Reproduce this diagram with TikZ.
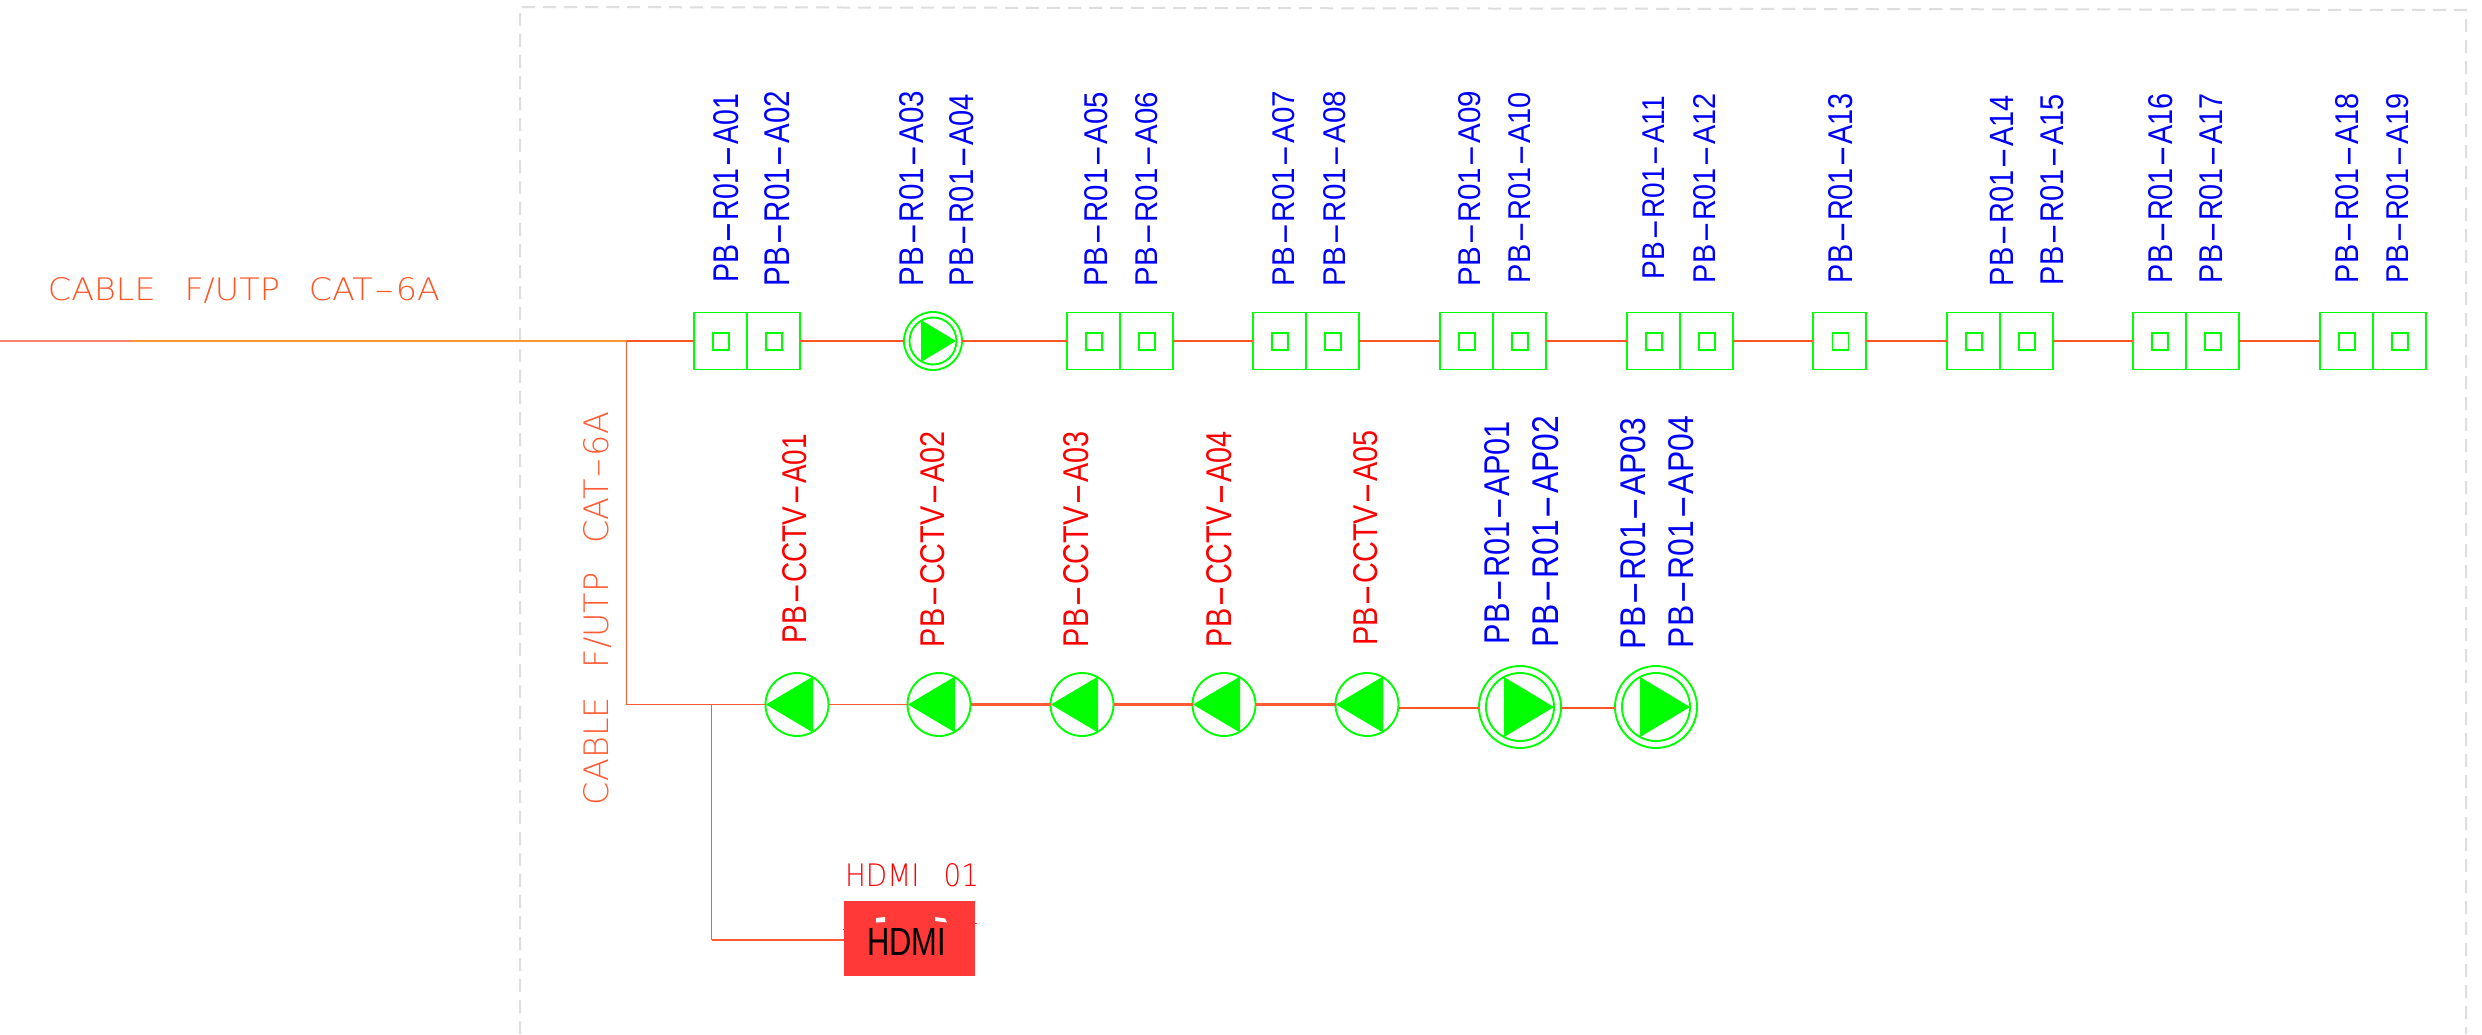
\documentclass[tikz,border=0pt]{standalone}
\usepackage{graphicx}
\usepackage{fontspec}
\setmainfont{Liberation Sans}
\newfontfamily\thinfont{DejaVu Sans ExtraLight}
\definecolor{devgreen}{RGB}{0,255,0}
\definecolor{cablered}{RGB}{255,85,35}
\definecolor{cablesoft}{RGB}{255,90,50}
\definecolor{cablepale}{RGB}{255,130,110}
\definecolor{cableorange}{RGB}{255,150,50}
\definecolor{hdmired}{RGB}{255,56,56}
\definecolor{framegrey}{RGB}{222,222,222}
\definecolor{labelblue}{RGB}{0,0,255}
\definecolor{labelred}{RGB}{255,0,0}
\tikzset{
  cell/.style={rectangle,draw=devgreen,line width=1.9pt,minimum width=53.3pt,minimum height=57pt,inner sep=0pt,outer sep=0pt},
  port/.style={rectangle,draw=devgreen,line width=1.9pt,minimum width=16pt,minimum height=17pt,inner sep=0pt,outer sep=0pt},
  ring/.style={circle,draw=devgreen,line width=1.9pt,inner sep=0pt,outer sep=0pt,fill=white},
  wire/.style={line width=2.2pt,color=cablered},
  softwire/.style={line width=1.7pt,color=cablesoft},
  txt/.style={inner sep=0pt,outer sep=0pt,anchor=base},
}
\def\hy{\hspace{.03em}\scalebox{2.3}[1]{-}\hspace{.03em}}
\def\thy{\hspace{.04em}\scalebox{1.7}[1]{-}\hspace{.04em}}
\def\wgap{\hspace{.55em}}
% name, x1, x2, y1, y2, colour, text : rotated label with its baseline at x2
\newcommand\vlab[7]{%
  \pgfmathsetmacro\lablen{#5-(#4)}\pgfmathsetmacro\labcap{#3-(#2)}%
  \pgfmathsetmacro\labmid{(#4+#5)/2}%
  \node[txt,rotate=90,text=#6] (#1) at (#3,\labmid) {\resizebox{\lablen pt}{\labcap pt}{\fontsize{35}{35}\selectfont #7}};}
\newcommand\pairbox[2]{%
  \node[cell] (#1a) at (#2-26.65,341) {};
  \node[cell] (#1b) at (#2+26.65,341) {};
  \node[port] (#1ap) at (#2-25.9,341.5) {};
  \node[port] (#1bp) at (#2+27.4,341.5) {};}
\newcommand\leftlamp[2]{%
  \node[ring,minimum size=63pt] (#1) at (#2,704.5) {};
  \fill[devgreen] ([shift={(-31,0)}]#1.center) -- ([shift={(16,-28)}]#1.center) -- ([shift={(16,28)}]#1.center) -- cycle;}
\newcommand\ap[2]{%
  \node[ring,minimum size=82pt] (#1o) at (#2,707) {};
  \node[ring,minimum size=68pt] (#1) at (#2,707) {};
  \fill[devgreen] ([shift={(-16,-30)}]#1.center) -- ([shift={(34,0)}]#1.center) -- ([shift={(-16,30)}]#1.center) -- cycle;}
\begin{document}
\begin{tikzpicture}[x=1pt,y=-1pt]
\fill[white] (0,0) rectangle (2482,1034);
\path[use as bounding box] (0,0) rectangle (2482,1034);
% frame
\coordinate (fa) at (520,1034);
\coordinate (fb) at (520,7);
\coordinate (fc) at (2466,10);
\coordinate (fd) at (2466,1034);
\draw[framegrey,line width=2pt,dash pattern=on 13pt off 8pt] (fa) -- (fb) -- (fc) -- (fd);
% top row
\pairbox{s1}{747}
\node[ring,minimum size=58pt] (w1o) at (933,341) {};
\node[ring,minimum size=47pt] (w1) at (933,341) {};
\fill[devgreen] ([shift={(-12,-21)}]w1.center) -- ([shift={(23,0)}]w1.center) -- ([shift={(-12,21)}]w1.center) -- cycle;
\pairbox{s2}{1120}
\pairbox{s3}{1306}
\pairbox{s4}{1493}
\pairbox{s5}{1680}
\node[cell,minimum width=53pt] (s6a) at (1839.5,341) {};
\node[port] (s6ap) at (1840.5,341.5) {};
\pairbox{s7}{2000}
\pairbox{s8}{2186}
\pairbox{s9}{2373}
% main cable
\coordinate (m0) at (0,341);
\coordinate (m1) at (132,341);
\coordinate (jn) at (626.5,341);
\coordinate (jv) at (626.5,704.5);
\coordinate (jh) at (711.5,704.5);
\coordinate (jd) at (711.5,940);
\draw[line width=2pt,cablepale] (m0) -- (m1);
\draw[line width=2pt,cableorange] (m1) -- (jn);
\draw[wire] (jn) -- (s1a.west);
\draw[wire] (s1b.east) -- (w1o.west);
\draw[wire] (w1o.east) -- (s2a.west);
\draw[wire] (s2b.east) -- (s3a.west);
\draw[wire] (s3b.east) -- (s4a.west);
\draw[wire] (s4b.east) -- (s5a.west);
\draw[wire] (s5b.east) -- (s6a.west);
\draw[wire] (s6a.east) -- (s7a.west);
\draw[wire] (s7b.east) -- (s8a.west);
\draw[wire] (s8b.east) -- (s9a.west);
% lower row
\leftlamp{c1}{797}
\leftlamp{c2}{939}
\leftlamp{c3}{1082}
\leftlamp{c4}{1224}
\leftlamp{c5}{1367}
\ap{p1}{1520}
\ap{p2}{1656}
\draw[softwire] (jn) -- (jv) -- (c1.west);
\draw[softwire] (jh) -- (jd);
\draw[softwire] (c1.east) -- (c2.west);
\draw[wire,cablesoft] (c2.east) -- (c3.west);
\draw[wire,cablesoft] (c3.east) -- (c4.west);
\draw[wire,cablesoft] (c4.east) -- (c5.west);
\draw[wire] ([yshift=-1pt]p1o.west -| c5.east) -- ([yshift=-1pt]p1o.west);
\draw[wire] ([yshift=-1pt]p1o.east) -- ([yshift=-1pt]p2o.west);
% HDMI
\node[rectangle,fill=hdmired,minimum width=131pt,minimum height=75pt,inner sep=0pt,outer sep=0pt] (hd) at (909.5,938.5) {};
\draw[softwire] (jd) -- (jd -| hd.west);
\fill[white] (876,918) -- (885,917) -- (885,922) -- (876,922.5) -- cycle;
\fill[white] (935,917) -- (945,918.5) -- (947,922.5) -- (935,921) -- cycle;
\draw[hdmired,line width=.8pt] (843,929) -- (845,929);
\draw[hdmired,line width=.8pt] (974,923) -- (977,923);
\node[txt,text=black] (hdt) at (906.5,955) {\resizebox{79pt}{27pt}{\fontsize{37}{37}\selectfont HDMI}};
\node[txt,text=labelred] (hdl) at (912,886) {\resizebox{134pt}{23pt}{\fontsize{32}{32}\thinfont HDMI \wgap 01}};
% cable labels
\node[txt,text=cablered] (cab1) at (244,300) {\resizebox{392pt}{23pt}{\fontsize{32}{32}\thinfont CABLE \wgap F/UTP \wgap CAT\thy 6A}};
\node[txt,text=cablesoft,rotate=90] (cab2) at (608,608.5) {\resizebox{393pt}{25pt}{\fontsize{32}{32}\thinfont CABLE \wgap F/UTP \wgap CAT\thy 6A}};
% device labels
\vlab{a01}{713}{738}{94}{282}{labelblue}{PB\hy R01\hy A01}
\vlab{a02}{764}{789}{91}{286}{labelblue}{PB\hy R01\hy A02}
\vlab{a03}{899}{923}{91}{286}{labelblue}{PB\hy R01\hy A03}
\vlab{a04}{949}{973}{94}{286}{labelblue}{PB\hy R01\hy A04}
\vlab{a05}{1084}{1107}{92}{286}{labelblue}{PB\hy R01\hy A05}
\vlab{a06}{1135}{1157}{92}{286}{labelblue}{PB\hy R01\hy A06}
\vlab{a07}{1272}{1294}{91}{286}{labelblue}{PB\hy R01\hy A07}
\vlab{a08}{1323}{1345}{91}{286}{labelblue}{PB\hy R01\hy A08}
\vlab{a09}{1458}{1480}{91}{286}{labelblue}{PB\hy R01\hy A09}
\vlab{a10}{1508}{1530}{92}{283}{labelblue}{PB\hy R01\hy A10}
\vlab{a11}{1642.5}{1664.5}{96}{279}{labelblue}{PB\hy R01\hy A11}
\vlab{a12}{1693.5}{1715.5}{93}{283}{labelblue}{PB\hy R01\hy A12}
\vlab{a13}{1828}{1852}{93}{283}{labelblue}{PB\hy R01\hy A13}
\vlab{a14}{1989.5}{2013}{95}{286}{labelblue}{PB\hy R01\hy A14}
\vlab{a15}{2040}{2063}{94}{285}{labelblue}{PB\hy R01\hy A15}
\vlab{a16}{2148}{2172}{93}{283}{labelblue}{PB\hy R01\hy A16}
\vlab{a17}{2199}{2222}{93}{283}{labelblue}{PB\hy R01\hy A17}
\vlab{a18}{2335}{2358}{93}{283}{labelblue}{PB\hy R01\hy A18}
\vlab{a19}{2386}{2408}{93}{283}{labelblue}{PB\hy R01\hy A19}
\vlab{v1}{782}{806}{434}{643}{labelred}{PB\hy CCTV\hy A01}
\vlab{v2}{920}{944}{431.5}{647}{labelred}{PB\hy CCTV\hy A02}
\vlab{v3}{1063}{1088}{431.5}{647}{labelred}{PB\hy CCTV\hy A03}
\vlab{v4}{1206}{1231}{431.5}{647}{labelred}{PB\hy CCTV\hy A04}
\vlab{v5}{1353}{1377}{430}{645.5}{labelred}{PB\hy CCTV\hy A05}
\vlab{ap1}{1484}{1509}{421}{644}{labelblue}{PB\hy R01\hy AP01}
\vlab{ap2}{1532}{1558}{416}{647}{labelblue}{PB\hy R01\hy AP02}
\vlab{ap3}{1620}{1645}{418}{649}{labelblue}{PB\hy R01\hy AP03}
\vlab{ap4}{1668}{1693}{416}{648}{labelblue}{PB\hy R01\hy AP04}
\end{tikzpicture}
\end{document}
